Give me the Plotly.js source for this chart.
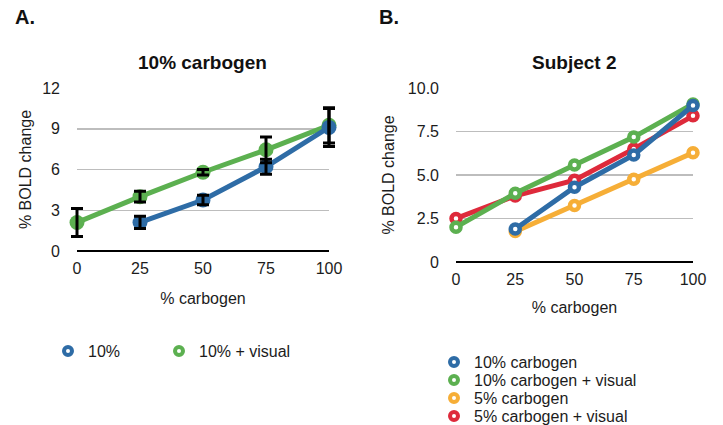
<!DOCTYPE html>
<html>
<head>
<meta charset="utf-8">
<script src="https://cdn.plot.ly/plotly-3.0.1.min.js"></script>
<style>html,body{margin:0;padding:0;background:#fff;}#chart{width:723px;height:425px;}</style>
</head>
<body>
<div id="chart"></div>
<script>
// ---------- data ----------
const carbogenTicks = [0, 25, 50, 75, 100];

// Panel A: 10% carbogen (group means with error bars)
const aX10 = [25, 50, 75, 100];
const aY10 = [2.1, 3.75, 6.2, 9.1];
const aErr10 = [0.45, 0.35, 0.55, 1.4];
const aXVis = [0, 25, 50, 75, 100];
const aYVis = [2.1, 4.0, 5.8, 7.45, 9.25];
const aErrVis = [1.03, 0.4, 0.2, 0.95, 1.3];

// Panel B: Subject 2
const bX10 = [25, 50, 75, 100];
const bY10 = [1.9, 4.3, 6.15, 9.0];
const bXVis10 = [0, 25, 50, 75, 100];
const bYVis10 = [2.0, 3.95, 5.57, 7.18, 9.08];
const bX5 = [25, 50, 75, 100];
const bY5 = [1.75, 3.25, 4.76, 6.28];
const bXVis5 = [0, 25, 50, 75, 100];
const bYVis5 = [2.5, 3.8, 4.7, 6.5, 8.4];

const aYTicks = [0, 3, 6, 9, 12];
const bYTicks = [0, 2.5, 5, 7.5, 10];
const bYTickText = ['0', '2.5', '5.0', '7.5', '10.0'];

const namesA = ['10%', '10% + visual'];
const namesB = ['10% carbogen', '10% carbogen + visual', '5% carbogen', '5% carbogen + visual'];

// ---------- styles ----------
const BLUE = '#2e6ca6', GREEN = '#5cb050', ORANGE = '#f6ae37', RED = '#de2a3b';
const FONT = 'Liberation Sans, Arial, Helvetica, sans-serif';
const TXT = '#1c1c1c';

function lineA(x, y, color) {
  return {x: x, y: y, type: 'scatter', mode: 'lines+markers', xaxis: 'x', yaxis: 'y',
    line: {color: color, width: 5}, marker: {color: color, size: 15},
    cliponaxis: false, showlegend: false, hoverinfo: 'skip'};
}
function errA(x, y, e) {
  // drawn on an invisible, slightly wider overlay subplot so end caps are not clipped
  return {x: x, y: y, type: 'scatter', mode: 'markers', xaxis: 'x3', yaxis: 'y3',
    marker: {size: 1, opacity: 0}, cliponaxis: false, showlegend: false, hoverinfo: 'skip',
    error_y: {type: 'data', array: e, visible: true, color: '#000', thickness: 3, width: 6}};
}
function lineB(x, y, color) {
  return {x: x, y: y, type: 'scatter', mode: 'lines+markers', xaxis: 'x2', yaxis: 'y2',
    line: {color: color, width: 5}, marker: {color: '#fff', size: 9, line: {color: color, width: 4.5}},
    cliponaxis: false, showlegend: false, hoverinfo: 'skip'};
}
function legendItem(name, color, legend) {
  return {x: [null], y: [null], type: 'scatter', mode: 'markers', name: name, legend: legend,
    xaxis: 'x2', yaxis: 'y2',
    marker: {color: '#fff', size: 8, line: {color: color, width: 4}}};
}

const traces = [
  lineA(aXVis, aYVis, GREEN),
  lineA(aX10, aY10, BLUE),
  lineB(bXVis5, bYVis5, RED),
  lineB(bX5, bY5, ORANGE),
  lineB(bXVis10, bYVis10, GREEN),
  lineB(bX10, bY10, BLUE),
  errA(aXVis, aYVis, aErrVis),
  errA(aX10, aY10, aErr10),
  legendItem(namesA[0], BLUE, 'legend'),
  legendItem(namesA[1], GREEN, 'legend2'),
  legendItem(namesB[0], BLUE, 'legend3'),
  legendItem(namesB[1], GREEN, 'legend4'),
  legendItem(namesB[2], ORANGE, 'legend5'),
  legendItem(namesB[3], RED, 'legend6')
];

const W = 723, H = 425;
const px = v => v / W, py = v => 1 - v / H;
const padA = 0.05 * (329 - 77);

const commonX = {range: [0, 100], tickvals: carbogenTicks, showgrid: false, zeroline: false,
  showline: false, ticks: '', tickfont: {size: 16, color: TXT, family: FONT}, fixedrange: true,
  ticklabelstandoff: 6};
const commonY = {showgrid: true, gridcolor: '#bdbdbd', gridwidth: 1.5, zeroline: true,
  zerolinecolor: '#000', zerolinewidth: 2, showline: false, ticks: '',
  tickfont: {size: 16, color: TXT, family: FONT}, fixedrange: true, ticklabelstandoff: 16};

function leg(x, y) {
  return {orientation: 'v', x: px(x), xanchor: 'left', y: py(y), yanchor: 'middle',
    font: {size: 16, color: TXT}, bgcolor: 'rgba(0,0,0,0)', borderwidth: 0};
}

const layout = {
  width: W, height: H, margin: {l: 0, r: 0, t: 0, b: 0, pad: 0, autoexpand: false},
  paper_bgcolor: '#fff', plot_bgcolor: 'rgba(0,0,0,0)',
  font: {family: FONT, color: TXT, size: 16},
  xaxis: Object.assign({}, commonX, {domain: [px(77), px(329)], anchor: 'y',
    title: {text: '% carbogen', font: {size: 16}, standoff: 16}}),
  yaxis: Object.assign({}, commonY, {domain: [py(251), py(88)], anchor: 'x', range: [0, 12],
    tickvals: aYTicks, title: {text: '% BOLD change', font: {size: 16}, standoff: 6}}),
  xaxis2: Object.assign({}, commonX, {domain: [px(456), px(693)], anchor: 'y2',
    title: {text: '% carbogen', font: {size: 16}, standoff: 14}}),
  yaxis2: Object.assign({}, commonY, {domain: [py(262), py(88)], anchor: 'x2', range: [0, 10],
    tickvals: bYTicks, ticktext: bYTickText, title: {text: '% BOLD change', font: {size: 16}, standoff: 9}}),
  xaxis3: {domain: [px(77 - padA), px(329 + padA)], range: [-5, 105], anchor: 'y3', visible: false,
    showgrid: false, zeroline: false, fixedrange: true},
  yaxis3: {domain: [py(251), py(88)], range: [0, 12], anchor: 'x3', visible: false,
    showgrid: false, zeroline: false, fixedrange: true},
  legend: leg(48, 351),
  legend2: leg(159, 351),
  legend3: leg(434, 362),
  legend4: leg(434, 380),
  legend5: leg(434, 398),
  legend6: leg(434, 416),
  annotations: [
    {text: '<b>A.</b>', xref: 'paper', yref: 'paper', x: px(13), y: py(17), xanchor: 'left', yanchor: 'middle',
      showarrow: false, font: {size: 20, color: '#111'}},
    {text: '<b>B.</b>', xref: 'paper', yref: 'paper', x: px(377), y: py(17), xanchor: 'left', yanchor: 'middle',
      showarrow: false, font: {size: 20, color: '#111'}},
    {text: '<b>10% carbogen</b>', xref: 'paper', yref: 'paper', x: px(202), y: py(62), xanchor: 'center', yanchor: 'middle',
      showarrow: false, font: {size: 19, color: '#111'}},
    {text: '<b>Subject 2</b>', xref: 'paper', yref: 'paper', x: px(574), y: py(62), xanchor: 'center', yanchor: 'middle',
      showarrow: false, font: {size: 19, color: '#111'}}
  ]
};

Plotly.newPlot('chart', traces, layout, {displayModeBar: false, staticPlot: true});
</script>
</body>
</html>
